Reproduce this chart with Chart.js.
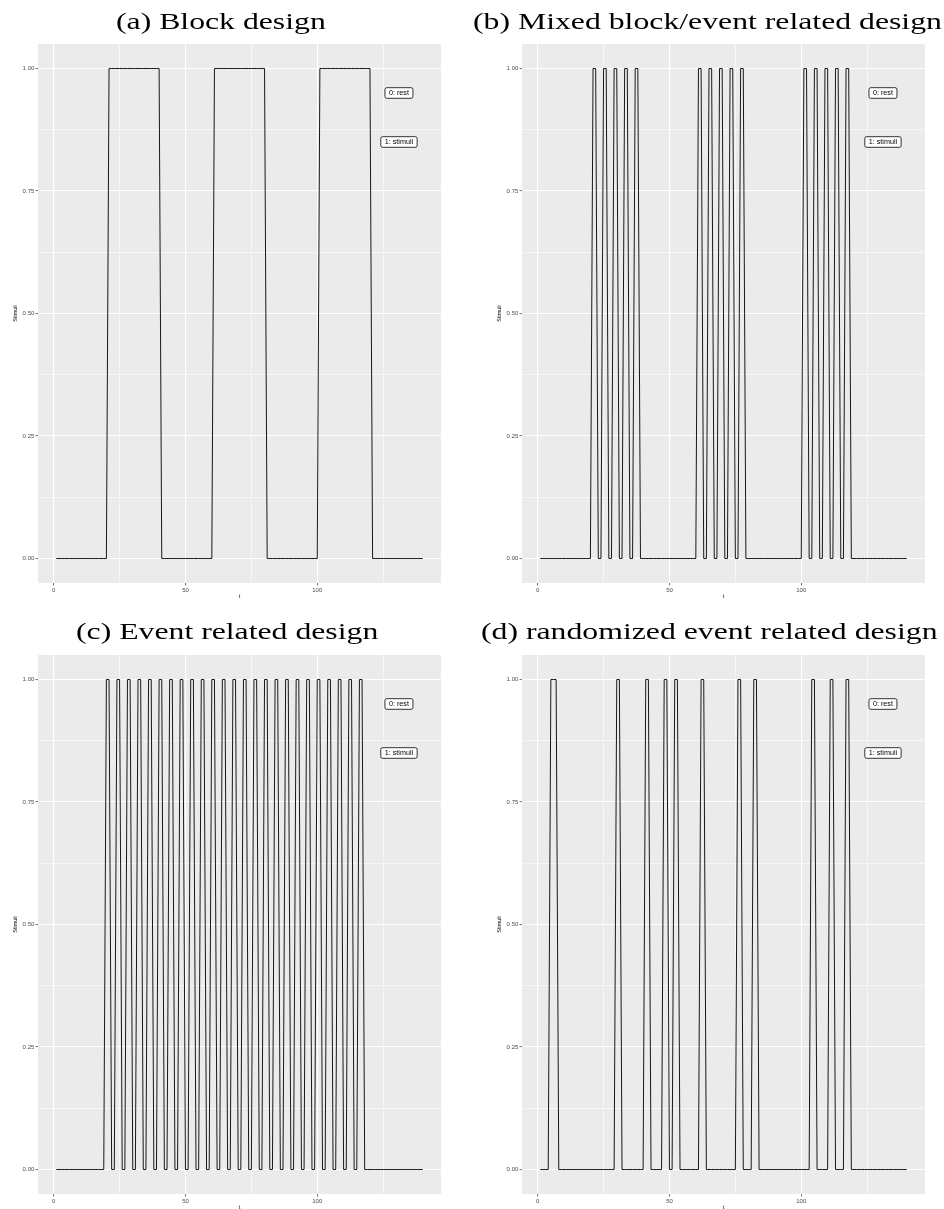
<!DOCTYPE html>
<html><head><meta charset="utf-8">
<script src="https://cdn.jsdelivr.net/npm/chart.js@4.4.1/dist/chart.umd.min.js"></script>
<style>
html,body{margin:0;padding:0;background:#fff;overflow:hidden;width:944px;height:1209px;position:relative;}
canvas{position:absolute;}
</style></head><body>
<canvas id="ca" width="470" height="610" style="left:0px;top:0px"></canvas>
<canvas id="cb" width="474" height="610" style="left:470px;top:0px"></canvas>
<canvas id="cc" width="470" height="610" style="left:0px;top:611px"></canvas>
<canvas id="cd" width="474" height="610" style="left:470px;top:611px"></canvas>
<script>
// ---- data ----
const t = [
  1,2,3,4,5,6,7,8,9,10,11,12,13,14,15,16,17,18,19,20,
  21,22,23,24,25,26,27,28,29,30,31,32,33,34,35,36,37,38,39,40,
  41,42,43,44,45,46,47,48,49,50,51,52,53,54,55,56,57,58,59,60,
  61,62,63,64,65,66,67,68,69,70,71,72,73,74,75,76,77,78,79,80,
  81,82,83,84,85,86,87,88,89,90,91,92,93,94,95,96,97,98,99,100,
  101,102,103,104,105,106,107,108,109,110,111,112,113,114,115,116,117,118,119,120,
  121,122,123,124,125,126,127,128,129,130,131,132,133,134,135,136,137,138,139,140
];
const blockDesign = [
  0,0,0,0,0,0,0,0,0,0,0,0,0,0,0,0,0,0,0,0,
  1,1,1,1,1,1,1,1,1,1,1,1,1,1,1,1,1,1,1,1,
  0,0,0,0,0,0,0,0,0,0,0,0,0,0,0,0,0,0,0,0,
  1,1,1,1,1,1,1,1,1,1,1,1,1,1,1,1,1,1,1,1,
  0,0,0,0,0,0,0,0,0,0,0,0,0,0,0,0,0,0,0,0,
  1,1,1,1,1,1,1,1,1,1,1,1,1,1,1,1,1,1,1,1,
  0,0,0,0,0,0,0,0,0,0,0,0,0,0,0,0,0,0,0,0
];
const mixedDesign = [
  0,0,0,0,0,0,0,0,0,0,0,0,0,0,0,0,0,0,0,0,
  1,1,0,0,1,1,0,0,1,1,0,0,1,1,0,0,1,1,0,0,
  0,0,0,0,0,0,0,0,0,0,0,0,0,0,0,0,0,0,0,0,
  1,1,0,0,1,1,0,0,1,1,0,0,1,1,0,0,1,1,0,0,
  0,0,0,0,0,0,0,0,0,0,0,0,0,0,0,0,0,0,0,0,
  1,1,0,0,1,1,0,0,1,1,0,0,1,1,0,0,1,1,0,0,
  0,0,0,0,0,0,0,0,0,0,0,0,0,0,0,0,0,0,0,0
];
const eventDesign = [
  0,0,0,0,0,0,0,0,0,0,0,0,0,0,0,0,0,0,0,1,
  1,0,0,1,1,0,0,1,1,0,0,1,1,0,0,1,1,0,0,1,
  1,0,0,1,1,0,0,1,1,0,0,1,1,0,0,1,1,0,0,1,
  1,0,0,1,1,0,0,1,1,0,0,1,1,0,0,1,1,0,0,1,
  1,0,0,1,1,0,0,1,1,0,0,1,1,0,0,1,1,0,0,1,
  1,0,0,1,1,0,0,1,1,0,0,1,1,0,0,1,1,0,0,0,
  0,0,0,0,0,0,0,0,0,0,0,0,0,0,0,0,0,0,0,0
];
const randomDesign = [
  0,0,0,0,1,1,1,0,0,0,0,0,0,0,0,0,0,0,0,0,
  0,0,0,0,0,0,0,0,0,1,1,0,0,0,0,0,0,0,0,0,
  1,1,0,0,0,0,0,1,1,0,0,1,1,0,0,0,0,0,0,0,
  0,1,1,0,0,0,0,0,0,0,0,0,0,0,0,1,1,0,0,0,
  0,1,1,0,0,0,0,0,0,0,0,0,0,0,0,0,0,0,0,0,
  0,0,0,1,1,0,0,0,0,0,1,1,0,0,0,0,1,1,0,0,
  0,0,0,0,0,0,0,0,0,0,0,0,0,0,0,0,0,0,0,0
];
const panelTitles = ['(a) Block design', '(b) Mixed block/event related design', '(c) Event related design', '(d) randomized event related design'];
const xMajor = [0, 50, 100];
const xMinor = [25, 75, 125];
const yMajor = [0, 0.25, 0.5, 0.75, 1];
const yMinor = [0.125, 0.375, 0.625, 0.875];
const labelTexts = ['0: rest', '1: stimuli'];
const labelX = [131, 131];
const labelY = [0.95, 0.85];

// ---- plugins ----
const panelBg = {
  id: 'panelBg',
  beforeDraw(chart) {
    const {ctx, chartArea: a} = chart;
    ctx.save();
    ctx.fillStyle = '#EBEBEB';
    ctx.fillRect(a.left, a.top, a.right - a.left, a.bottom - a.top);
    ctx.restore();
  }
};
const stateLabels = {
  id: 'stateLabels',
  afterDatasetsDraw(chart) {
    const {ctx, scales} = chart;
    ctx.save();
    ctx.font = '7.2px "Liberation Sans", Arial, sans-serif';
    ctx.textAlign = 'center';
    ctx.textBaseline = 'middle';
    labelTexts.forEach((txt, i) => {
      const cx = scales.x.getPixelForValue(labelX[i]);
      const cy = scales.y.getPixelForValue(labelY[i]);
      const w = ctx.measureText(txt).width + 8;
      const h = 10.6;
      ctx.beginPath();
      ctx.roundRect(cx - w / 2, cy - h / 2, w, h, 1.8);
      ctx.fillStyle = '#FFFFFF';
      ctx.fill();
      ctx.lineWidth = 0.8;
      ctx.strokeStyle = '#000000';
      ctx.stroke();
      ctx.fillStyle = '#000000';
      ctx.fillText(txt, cx, cy + 0.4);
    });
    ctx.restore();
  }
};
const panelTitle = {
  id: 'panelTitle',
  afterDraw(chart, args, opts) {
    const ctx = chart.ctx;
    ctx.save();
    ctx.font = '23px "Liberation Serif", "Times New Roman", serif';
    ctx.fillStyle = '#000000';
    ctx.textAlign = 'left';
    ctx.textBaseline = 'alphabetic';
    ctx.translate(opts.left, opts.baseline);
    ctx.scale(opts.stretch, 1);
    ctx.fillText(opts.text, 0, 0);
    ctx.restore();
  }
};

const tickFont = {family: '"Liberation Sans", Arial, sans-serif', size: 6};
const axisTitleFont = {family: '"Liberation Sans", Arial, sans-serif', size: 5.5};
const isMajorX = v => xMajor.includes(v);
const isMajorY = v => yMajor.some(m => Math.abs(m - v) < 1e-9);

function makeChart(id, series, title, padLeft, padRight, titleLeft, baseline) {
  const points = t.map((x, i) => ({x: x, y: series[i]}));
  return new Chart(document.getElementById(id), {
    type: 'line',
    data: {datasets: [{data: points, borderColor: '#000000', borderWidth: 0.9, pointRadius: 0, tension: 0, fill: false}]},
    options: {
      responsive: false, animation: false, devicePixelRatio: 1,
      layout: {padding: {top: 44, right: padRight, left: padLeft, bottom: 0}},
      plugins: {
        legend: {display: false}, tooltip: {enabled: false},
        panelTitle: {text: title, left: titleLeft, baseline: baseline, stretch: 1.38}
      },
      scales: {
        x: {
          type: 'linear', min: -5.95, max: 146.95,
          afterBuildTicks: s => { s.ticks = xMajor.concat(xMinor).sort((a, b) => a - b).map(v => ({value: v})); },
          afterFit: s => { s.height = 27; },
          ticks: {autoSkip: false, maxRotation: 0, minRotation: 0, padding: 0.8, color: '#4D4D4D', font: tickFont,
                  callback: v => isMajorX(v) ? String(v) : ''},
          grid: {color: '#FFFFFF', lineWidth: c => isMajorX(c.tick.value) ? 1.1 : 0.55,
                 tickLength: 2.5, tickWidth: 0.7,
                 tickColor: c => isMajorX(c.tick.value) ? '#333333' : 'rgba(0,0,0,0)'},
          border: {display: false},
          title: {display: true, text: 't', color: '#000000', font: axisTitleFont, padding: {top: 0, bottom: 10}}
        },
        y: {
          type: 'linear', min: -0.05, max: 1.05,
          afterBuildTicks: s => { s.ticks = yMajor.concat(yMinor).sort((a, b) => a - b).map(v => ({value: v})); },
          afterFit: s => { s.width = 38; },
          ticks: {autoSkip: false, padding: 1.2, color: '#4D4D4D', font: tickFont,
                  callback: v => isMajorY(v) ? Number(v).toFixed(2) : ''},
          grid: {color: '#FFFFFF', lineWidth: c => isMajorY(c.tick.value) ? 1.1 : 0.55,
                 tickLength: 2.5, tickWidth: 0.7,
                 tickColor: c => isMajorY(c.tick.value) ? '#333333' : 'rgba(0,0,0,0)'},
          border: {display: false},
          title: {display: true, text: 'Stimuli', color: '#000000', font: axisTitleFont, padding: {top: 12.5, bottom: 0}}
        }
      }
    },
    plugins: [panelBg, stateLabels, panelTitle]
  });
}

makeChart('ca', blockDesign, panelTitles[0], 0, 29, 116, 29);
makeChart('cb', mixedDesign, panelTitles[1], 14, 19, 3, 29);
makeChart('cc', eventDesign, panelTitles[2], 0, 29, 76, 28);
makeChart('cd', randomDesign, panelTitles[3], 14, 19, 11, 28);
</script>
</body></html>
